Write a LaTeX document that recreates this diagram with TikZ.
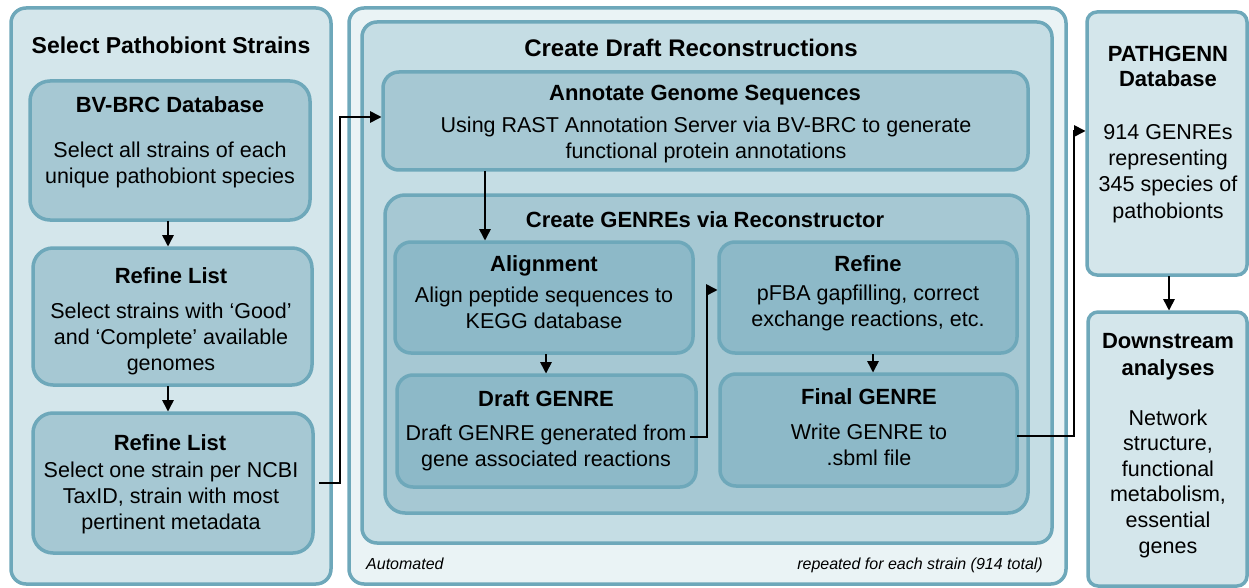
\documentclass[tikz,border=0pt]{standalone}
\usepackage{fontspec}
\setmainfont{Liberation Sans}
\usetikzlibrary{arrows.meta,calc}
\definecolor{strk}{HTML}{6EA8BA}
\definecolor{lightf}{HTML}{D4E6EB}
\definecolor{vlightf}{HTML}{EAF3F5}
\definecolor{innerf}{HTML}{C5DDE4}
\definecolor{midf}{HTML}{A6C8D3}
\definecolor{darkf}{HTML}{8DB9C8}
\begin{document}
\begin{tikzpicture}[x=1pt,y=-1pt,
  box/.style={draw=strk, line width=3.5pt, rounded corners=16pt, inner sep=0pt, outer sep=0pt, anchor=north west},
  arr/.style={draw=black, line width=1.6pt, -{Triangle[length=11.5pt,width=11.5pt]}},
  hd/.style={font=\fontsize{22}{26}\selectfont\bfseries, anchor=base, inner sep=0pt},
  ttl/.style={font=\fontsize{24}{28}\selectfont\bfseries, anchor=base, inner sep=0pt},
  bd/.style={font=\fontsize{21.5}{26}\selectfont, anchor=base, align=center, inner sep=0pt},
  note/.style={font=\fontsize{16}{19}\selectfont\itshape, inner sep=0pt}]
\useasboundingbox (0,0) rectangle (1249,588);
% boxes
\node[box, fill=lightf, minimum width=320pt, minimum height=576pt, rounded corners=15pt] (L) at (11,8) {};
\node[box, fill=midf, minimum width=280pt, minimum height=139pt, rounded corners=20pt] (bv) at (30,81) {};
\node[box, fill=midf, minimum width=279pt, minimum height=137pt, rounded corners=20pt] (rl1) at (33,248) {};
\node[box, fill=midf, minimum width=280pt, minimum height=140pt, rounded corners=20pt] (rl2) at (33,413) {};
\node[box, fill=vlightf, minimum width=717pt, minimum height=576pt, rounded corners=15pt] (Mo) at (349,8) {};
\node[box, fill=innerf, minimum width=690pt, minimum height=521pt, rounded corners=15pt] (Mi) at (362,22) {};
\node[box, fill=midf, minimum width=645pt, minimum height=98pt] (ann) at (383,72) {};
\node[box, fill=midf, minimum width=643pt, minimum height=318pt, rounded corners=20pt] (gen) at (385,195) {};
\node[box, fill=darkf, minimum width=298pt, minimum height=111pt] (ali) at (395,242) {};
\node[box, fill=darkf, minimum width=299pt, minimum height=112pt] (dg) at (397,375) {};
\node[box, fill=darkf, minimum width=298pt, minimum height=111pt] (ref) at (719,242) {};
\node[box, fill=darkf, minimum width=297pt, minimum height=112pt] (fin) at (720,374) {};
\node[box, fill=lightf, minimum width=160pt, minimum height=263pt, rounded corners=10pt] (pg) at (1087,12) {};
\node[box, fill=lightf, minimum width=159pt, minimum height=274pt, rounded corners=10pt] (ds) at (1088,312) {};
% texts left
\node[hd, font=\fontsize{23}{27}\selectfont\bfseries] (t0) at (171,54) {Select Pathobiont Strains};
\node[hd] (t1) at (170,113) {BV-BRC Database};
\node[bd] (b1) at (170,184) {Select all strains of each\\unique pathobiont species};
\node[hd] (t2) at (171,283) {Refine List};
\node[bd] (b2) at (171,370) {Select strains with ‘Good’\\and ‘Complete’ available\\genomes};
\node[hd] (t3) at (170,450) {Refine List};
\node[bd] (b3) at (171,529) {Select one strain per NCBI\\TaxID, strain with most\\pertinent metadata};
% texts middle
\node[ttl] (m0) at (691,57) {Create Draft Reconstructions};
\node[hd] (m1) at (705,101) {Annotate Genome Sequences};
\node[bd] (mb1) at (706,159) {Using RAST Annotation Server via BV-BRC to generate\\functional protein annotations};
\node[hd] (m2) at (705,227) {Create GENREs via Reconstructor};
\node[hd] (alT) at (544,271) {Alignment};
\node[bd] (alB) at (544,328) {Align peptide sequences to\\KEGG database};
\node[hd] (dgT) at (546,406) {Draft GENRE};
\node[bd] (dgB) at (546,466) {Draft GENRE generated from\\gene associated reactions};
\node[hd] (rfT) at (868,271) {Refine};
\node[bd] (rfB) at (868,326) {pFBA gapfilling, correct\\exchange reactions, etc.};
\node[hd] (fnT) at (869,404) {Final GENRE};
\node[bd] (fnB) at (869,465) {Write GENRE to\\.sbml file};
\node[note, anchor=base west] (auto) at (366,569) {Automated};
\node[note, anchor=base east] (rep) at (1043,569) {repeated for each strain (914 total)};
% texts right
\node[hd, align=center, font=\fontsize{22}{25}\selectfont\bfseries] (pgT) at (1168,87) {PATHGENN\\Database};
\node[bd] (pgB) at (1168,218) {914 GENREs\\representing\\345 species of\\pathobionts};
\node[hd, align=center, font=\fontsize{22}{27}\selectfont\bfseries] (dsT) at (1168,375) {Downstream\\analyses};
\node[bd, font=\fontsize{21.5}{25.6}\selectfont] (dsB) at (1168,553) {Network\\structure,\\functional\\metabolism,\\essential\\genes};
% connectors
\coordinate (a1) at (168,0);
\coordinate (j1) at (340,300);
\coordinate (a2) at (485,0);
\coordinate (a3) at (546,0);
\coordinate (j2) at (707,300);
\coordinate (a4) at (873,0);
\coordinate (j3) at (1074,300);
\coordinate (a5) at (1169,0);
\draw[arr] ([yshift=-1pt]bv.south -| a1) -- ([yshift=1.5pt]rl1.north -| a1);
\draw[arr] ([yshift=-1pt]rl1.south -| a1) -- ([yshift=1.5pt]rl2.north -| a1);
\draw[arr] ([xshift=6pt]rl2.east) -| (j1) |- ([yshift=4pt,xshift=-1.5pt]ann.west);
\draw[arr] ([yshift=-1pt]ann.south -| a2) -- ([yshift=1.5pt]ali.north -| a2);
\draw[arr] ([yshift=-1pt]ali.south -| a3) -- ([yshift=1.5pt]dg.north -| a3);
\draw[arr] ([xshift=-6pt,yshift=-6pt]dg.east) -| (j2) |- ([yshift=7.5pt,xshift=-1.5pt]ref.west);
\draw[arr] ([yshift=-1pt]ref.south -| a4) -- ([yshift=1.5pt]fin.north -| a4);
\draw[arr] ([yshift=-6pt]fin.east) -| (j3) |- ([yshift=12.5pt,xshift=-1.5pt]pg.west);
\draw[arr] ([yshift=-1pt]pg.south -| a5) -- ([yshift=1.5pt]ds.north -| a5);
\end{tikzpicture}
\end{document}
